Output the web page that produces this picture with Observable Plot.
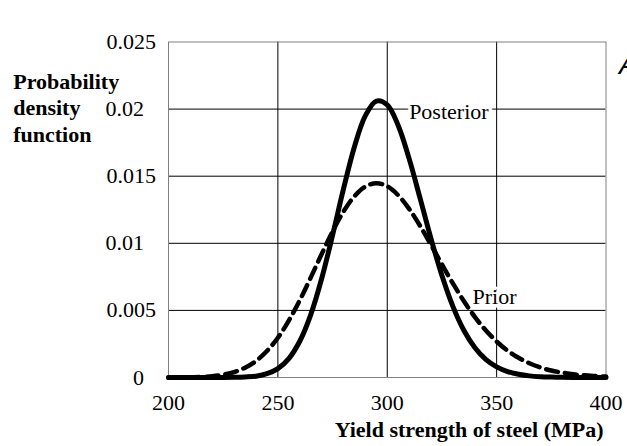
<!DOCTYPE html>
<html>
<head>
<meta charset="utf-8">
<script src="https://cdn.jsdelivr.net/npm/d3@7"></script>
<script src="https://cdn.jsdelivr.net/npm/@observablehq/plot@0.6"></script>
<style>
  html, body { margin: 0; padding: 0; background: #fff; }
</style>
</head>
<body>
<div id="chart"></div>
<script>
// Yield strength (MPa)
const strength = [200,205,210,215,220,225,230,235,240,245,250,255,260,265,270,275,280,285,290,295,300,
                  305,310,315,320,325,330,335,340,345,350,355,360,365,370,375,380,385,390,395,400];
// Posterior probability density
const posterior = [0,0,0,0,0,0,0.00001,0.00004,0.0001,0.00028,0.00066,0.00141,0.0027,0.00467,0.00736,0.0106,0.01405,0.0172,0.01951,0.0206,0.02032,
                   0.01878,0.01631,0.01336,0.01035,0.0076,0.0053,0.00352,0.00223,0.00135,0.00079,0.00044,0.00024,0.00012,0.00006,0.00003,0.00001,0,0,0,0];
// Prior probability density
const prior = [0,0.00001,0.00002,0.00004,0.0001,0.00021,0.0004,0.00073,0.00123,0.00197,0.00296,0.00424,0.00575,0.00744,0.00919,0.01088,0.01237,0.01351,0.01423,0.01448,0.01425,
               0.01358,0.01257,0.0113,0.00988,0.00843,0.00701,0.0057,0.00452,0.00352,0.00268,0.002,0.00147,0.00106,0.00075,0.00052,0.00036,0.00024,0.00016,0.00011,0.00007];

const xTicks = [200,250,300,350,400];
const yTicksWide = [0.025,0.015,0.005];
const yTicksNarrow = [0.02,0.01,0];
const gridXTicks = [250,300,350];
const gridYTicks = [0.005,0.01,0.015,0.02];

const labelNames = ["Posterior","Prior"];
const labelX = [310,339];
const labelY = [0.0198,0.006];

const postData = strength.map((x,i)=>({x, y: posterior[i]}));
const priorData = strength.map((x,i)=>({x, y: prior[i]}));

const serif = "'Liberation Serif', 'Times New Roman', serif";

const chart = Plot.plot({
  width: 627,
  height: 446,
  marginLeft: 168,
  marginRight: 21.5,
  marginTop: 41.5,
  marginBottom: 69,
  x: {domain: [200,400]},
  y: {domain: [0,0.025]},
  style: {fontFamily: serif, fontSize: "22px", color: "black", background: "white", overflow: "visible"},
  marks: [
    Plot.gridX(gridXTicks, {stroke: "black", strokeOpacity: 1, strokeWidth: 1}),
    Plot.gridY(gridYTicks, {stroke: "black", strokeOpacity: 1, strokeWidth: 1}),
    Plot.frame({stroke: "#808080", strokeWidth: 1}),
    Plot.axisX(xTicks, {tickSize: 0, tickPadding: 17, label: null, fontSize: 22, tickFormat: d => String(d)}),
    Plot.axisY(yTicksWide, {tickSize: 0, tickPadding: 12.5, label: null, fontSize: 22, tickFormat: d => String(d)}),
    Plot.axisY(yTicksNarrow, {tickSize: 0, tickPadding: 24.5, label: null, fontSize: 22, tickFormat: d => String(d)}),
    Plot.line(priorData, {x: "x", y: "y", stroke: "black", strokeWidth: 4.5, strokeDasharray: "12,7", curve: "catmull-rom"}),
    Plot.line(postData, {x: "x", y: "y", stroke: "black", strokeWidth: 5, strokeLinecap: "round", curve: "catmull-rom"}),
    Plot.text(labelNames, {x: (d,i) => labelX[i], y: (d,i) => labelY[i], text: d => d, textAnchor: "start",
      fill: "black", stroke: "white", strokeWidth: 7, fontSize: 22}),
    Plot.text(["Probability\ndensity\nfunction"], {frameAnchor: "top-left", dx: -155.3, dy: 27.9, textAnchor: "start",
      lineAnchor: "top", lineHeight: 1.21, fontWeight: "bold", fontSize: 22, fill: "black"}),
    Plot.text(["Yield strength of steel (MPa)"], {frameAnchor: "bottom-right", dx: -2.5, dy: 59, textAnchor: "end",
      lineAnchor: "bottom", fontWeight: "bold", fontSize: 22, fill: "black"}),
    Plot.text(["A"], {frameAnchor: "top-right", dx: 13, dy: 31.5, textAnchor: "start", lineAnchor: "bottom",
      fontFamily: "'Liberation Sans', Arial, sans-serif", fontStyle: "italic", fontSize: 28, fill: "black"})
  ]
});
document.getElementById("chart").appendChild(chart);
</script>
</body>
</html>
